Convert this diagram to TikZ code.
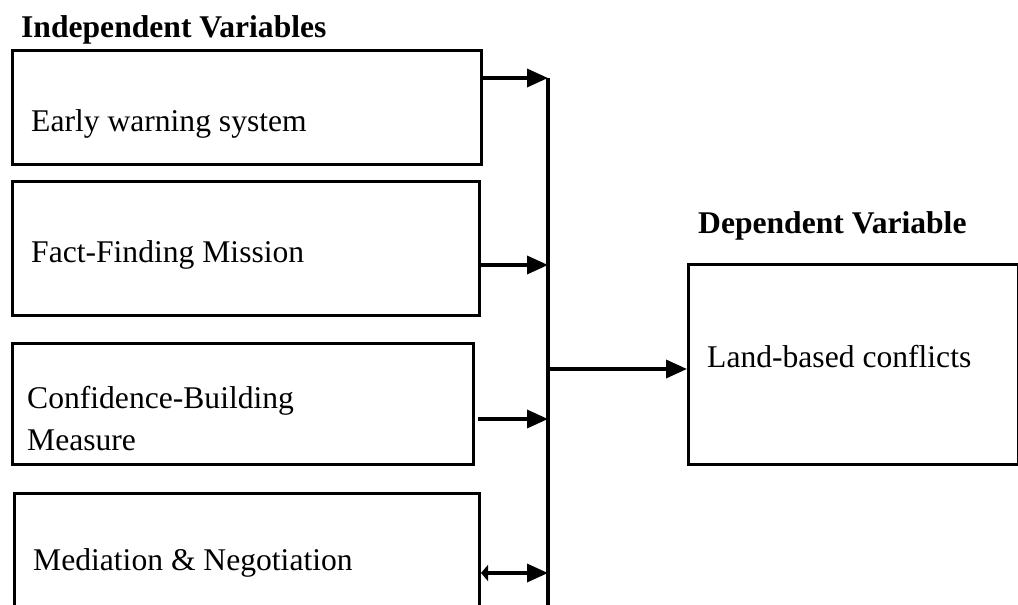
\documentclass[tikz,border=0pt]{standalone}
\usepackage{fontspec}
\setmainfont{Liberation Serif}
\usetikzlibrary{arrows.meta}

\tikzset{
  varbox/.style={draw, line width=3pt, anchor=north west, inner sep=0pt},
  vartext/.style={anchor=base west, inner sep=0pt, font=\fontsize{31.6}{38}\selectfont},
  heading/.style={vartext, font=\fontsize{31.6}{38}\selectfont\bfseries},
  link/.style={line width=3.5pt, -{Triangle[length=21pt,width=18pt]}},
}

\begin{document}
\begin{tikzpicture}[x=1pt,y=-1pt]
\useasboundingbox (0,0) rectangle (1018,605);
\clip (0,0) rectangle (1018,605);
% headings
\node [heading] (indep) at (21,37) {Independent Variables};
\node [heading] (dep) at (698,233) {Dependent Variable};
% independent variable boxes
\node [varbox, minimum width=469pt, minimum height=114pt] (ews) at (11,49) {};
\node [varbox, minimum width=467pt, minimum height=134pt] (ffm) at (11,180) {};
\node [varbox, minimum width=461pt, minimum height=121pt] (cbm) at (11,342) {};
\node [varbox, minimum width=465pt, minimum height=150pt] (mn) at (13,492) {};
% dependent variable box
\node [varbox, minimum width=330pt, minimum height=200pt] (lbc) at (687,263) {};
% box texts
\node [vartext] (ewsText) at (31,131) {Early warning system};
\node [vartext] (ffmText) at (31,262) {Fact-Finding Mission};
\node [vartext] (cbmTextA) at (27,408) {Confidence-Building};
\node [vartext] (cbmTextB) at (27,450) {Measure};
\node [vartext] (mnText) at (33,570) {Mediation \& Negotiation};
\node [vartext] (lbcText) at (707,367) {Land-based conflicts};
% collecting line
\coordinate (b1) at (548,78);
\coordinate (b2) at (548,265);
\coordinate (b0) at (548,369);
\coordinate (b3) at (548,419);
\coordinate (b4) at (548,573);
\coordinate (bend) at (548,610);
\draw [line width=3.5pt] (b1) -- (bend);
% arrows
\draw [link] (ews.east |- b1) -- (b1);
\draw [link] (ffm.east |- b2) -- (b2);
\draw [link] ([xshift=3pt]cbm.east |- b3) -- (b3);
\draw [link, {Triangle[length=7pt,width=16pt]}-{Triangle[length=21pt,width=18pt]}] (mn.east |- b4) -- (b4);
\draw [link] (b0) -- (lbc.west |- b0);
\end{tikzpicture}
\end{document}
